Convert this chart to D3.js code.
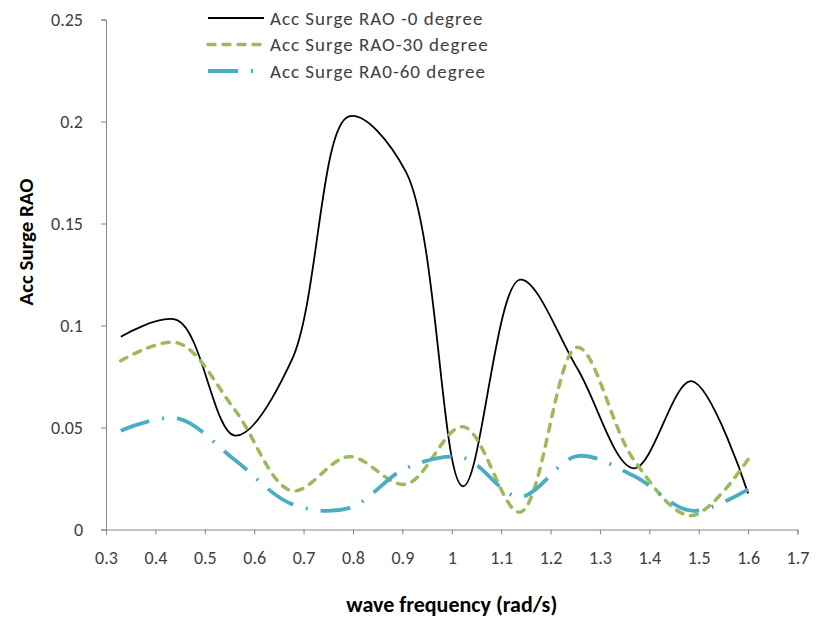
<!DOCTYPE html>
<html>
<head>
<meta charset="utf-8">
<script src="https://cdn.jsdelivr.net/npm/d3@7"></script>
<style>
  html, body { margin: 0; padding: 0; background: #fff; }
  svg text { font-family: Carlito, Lato, "Open Sans", sans-serif; fill: #404040; }
</style>
</head>
<body>
<svg id="chart" width="816" height="621"></svg>
<script>
const frequencies = [0.33, 0.445, 0.561, 0.676, 0.792, 0.907, 1.023, 1.138, 1.254, 1.369, 1.485, 1.6];
const rao0  = [0.0945, 0.1025, 0.0460, 0.0830, 0.2025, 0.1754, 0.0212, 0.1225, 0.0790, 0.0300, 0.0727, 0.0177];
const rao30 = [0.0827, 0.0915, 0.0586, 0.0190, 0.0357, 0.0222, 0.0504, 0.0085, 0.0893, 0.0340, 0.0068, 0.0344];
const rao60 = [0.0484, 0.0545, 0.0341, 0.0125, 0.0105, 0.0300, 0.0352, 0.0160, 0.0360, 0.0262, 0.0092, 0.0197];
const seriesNames = ["Acc Surge RAO -0 degree", "Acc Surge RAO-30 degree", "Acc Surge RA0-60 degree"];
const xTicks = [0.3, 0.4, 0.5, 0.6, 0.7, 0.8, 0.9, 1, 1.1, 1.2, 1.3, 1.4, 1.5, 1.6, 1.7];
const yTicks = [0, 0.05, 0.1, 0.15, 0.2, 0.25];

const svg = d3.select("#chart");
const plotL = 106, plotR = 797.5, plotT = 19.5, plotB = 529.5;
const x = d3.scaleLinear().domain([0.3, 1.7]).range([plotL, plotR]);
const y = d3.scaleLinear().domain([0, 0.25]).range([plotB, plotT]);

const axisColor = "#868686";
const fmt = d => String(d);

const xAxis = svg.append("g").attr("transform", `translate(0,${plotB})`)
  .call(d3.axisBottom(x).tickValues(xTicks).tickFormat(fmt).tickSize(5).tickPadding(17));
const yAxis = svg.append("g").attr("transform", `translate(${plotL},0)`)
  .call(d3.axisLeft(y).tickValues(yTicks).tickFormat(fmt).tickSize(5).tickPadding(18));
[xAxis, yAxis].forEach(a => {
  a.select(".domain").attr("stroke", axisColor).attr("stroke-width", 1);
  a.selectAll(".tick line").attr("stroke", axisColor);
  a.selectAll(".tick text").style("font-size", "18px").attr("fill", "#404040");
});

const series = [
  { name: seriesNames[0], values: rao0,  color: "#000000", width: 1.8, dash: null, cap: "butt" },
  { name: seriesNames[1], values: rao30, color: "#9BBB59", width: 3.5, dash: "7,8", cap: "round" },
  { name: seriesNames[2], values: rao60, color: "#4BACC6", width: 3.8, dash: "30,13,2,13", cap: "butt" }
];

const line = d3.line().x(d => x(d[0])).y(d => y(d[1])).curve(d3.curveCatmullRom.alpha(0.5));

series.forEach(s => {
  svg.append("path")
    .datum(frequencies.map((f, i) => [f, s.values[i]]))
    .attr("d", line)
    .attr("fill", "none")
    .attr("stroke", s.color)
    .attr("stroke-width", s.width)
    .attr("stroke-linecap", s.cap)
    .attr("stroke-dasharray", s.dash);
});

const legend = svg.append("g").attr("transform", "translate(208,18)");
series.forEach((s, i) => {
  const g = legend.append("g").attr("transform", `translate(0,${i * 26.5})`);
  g.append("line").attr("x1", 0).attr("x2", 56).attr("y1", 0).attr("y2", 0)
    .attr("stroke", s.color).attr("stroke-width", s.width)
    .attr("stroke-linecap", s.cap).attr("stroke-dasharray", s.dash);
  g.append("text").attr("x", 62).attr("y", 0).attr("dy", "0.35em")
    .style("font-size", "19px").style("letter-spacing", "1px").text(s.name);
});

svg.append("text").attr("x", (plotL + plotR) / 2).attr("y", 612)
  .attr("text-anchor", "middle").style("font-size", "22px").style("font-weight", "bold")
  .style("fill", "#000").text("wave frequency (rad/s)");
svg.append("text").attr("transform", `translate(33,242) rotate(-90)`)
  .attr("text-anchor", "middle").style("font-size", "21px").style("font-weight", "bold")
  .style("fill", "#000").text("Acc Surge RAO");
</script>
</body>
</html>
